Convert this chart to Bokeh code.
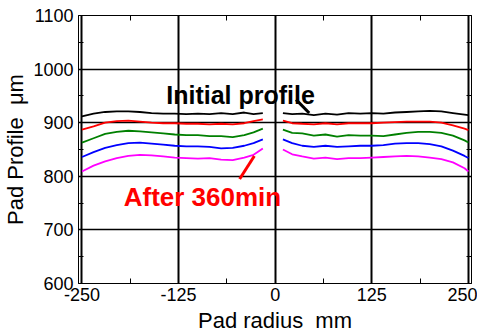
from bokeh.plotting import figure
from bokeh.models import FixedTicker, LinearAxis, Range1d, Label
from bokeh.embed import file_html
from bokeh.resources import INLINE

# Data
x_left = [-250, -235, -220, -205, -190, -175, -160, -145, -130, -115, -100, -85, -70, -55, -40, -28, -16]
x_right = [10, 22, 35, 50, 65, 80, 95, 110, 125, 140, 155, 170, 185, 200, 215, 230, 245, 250]

black_left = [912, 917, 920, 921, 921, 920, 918, 917, 917, 916, 917, 916, 918, 916, 919, 916, 918]
black_right = [918, 916, 917, 914, 917, 915, 918, 917, 918, 917, 919, 920, 921, 922, 921, 918, 915, 914]
red_left = [887, 893, 900, 903, 904, 902, 900, 899, 899, 898, 898, 897, 898, 897, 899, 903, 906]
red_right = [904, 899, 898, 897, 899, 897, 899, 899, 899, 900, 901, 902, 902, 902, 900, 895, 889, 886]
green_left = [863, 871, 879, 883, 885, 884, 882, 880, 878, 877, 877, 875, 875, 873, 877, 882, 889]
green_right = [887, 881, 880, 876, 878, 874, 877, 876, 876, 875, 878, 881, 883, 883, 881, 876, 867, 863]
blue_left = [836, 845, 853, 858, 862, 863, 861, 859, 857, 856, 856, 855, 852, 853, 857, 862, 869]
blue_right = [869, 862, 857, 855, 857, 855, 856, 857, 857, 858, 861, 862, 862, 860, 856, 848, 838, 834]
mag_left = [809, 820, 828, 834, 838, 840, 839, 837, 835, 834, 833, 834, 831, 830, 835, 840, 852]
mag_right = [850, 841, 837, 833, 835, 832, 834, 834, 835, 836, 837, 838, 837, 835, 832, 826, 815, 809]

x_ticks = [-250, -125, 0, 125, 250]
x_tick_labels = ["-250", "-125", "0", "125", "250"]
y_ticks = [600, 700, 800, 900, 1000, 1100]

series = [
    (black_left, black_right, "#000000"),
    (red_left, red_right, "#ff0000"),
    (green_left, green_right, "#008000"),
    (blue_left, blue_right, "#0000ff"),
    (mag_left, mag_right, "#ff00ff"),
]

FONT = "Liberation Sans"

p = figure(frame_width=393, frame_height=268, output_backend="svg", toolbar_location=None,
           x_range=Range1d(-254.5, 254), y_range=Range1d(600, 1100),
           min_border_left=10, min_border_right=6, min_border_top=15, min_border_bottom=10)
p.background_fill_color = "white"
p.outline_line_color = "black"
p.outline_line_width = 1

p.xgrid.ticker = FixedTicker(ticks=x_ticks)
p.ygrid.ticker = FixedTicker(ticks=y_ticks)
p.xgrid.grid_line_color = "black"
p.xgrid.grid_line_width = 2
p.ygrid.grid_line_color = "black"
p.ygrid.grid_line_width = 1.5

x_minor = [-187.5, -62.5, 62.5, 187.5]
y_minor = [650, 750, 850, 950, 1050]

def style_axis(ax, ticks, minor, show_labels=True):
    ax.ticker = FixedTicker(ticks=ticks, minor_ticks=minor)
    ax.major_tick_in = 0
    ax.major_tick_out = 0
    ax.minor_tick_in = 5
    ax.minor_tick_out = 0
    ax.minor_tick_line_color = "black"
    ax.axis_line_color = "black"
    ax.axis_line_width = 1
    ax.major_label_text_font = FONT
    ax.major_label_text_font_size = "18px"
    ax.major_label_text_color = "black" if show_labels else None
    ax.axis_label_text_font = FONT
    ax.axis_label_text_font_size = "22px"
    ax.axis_label_text_font_style = "normal"
    ax.axis_label_text_color = "black"

style_axis(p.xaxis[0], x_ticks, x_minor)
style_axis(p.yaxis[0], y_ticks, y_minor)
p.xaxis[0].major_label_overrides = {t: s for t, s in zip(x_ticks, x_tick_labels)}
p.xaxis[0].major_label_standoff = 4
p.yaxis[0].major_label_standoff = 5
p.xaxis[0].axis_label = "Pad radius\u00a0\u00a0mm"
p.xaxis[0].axis_label_standoff = 4
p.yaxis[0].axis_label = "Pad Profile\u00a0\u00a0μm"
p.yaxis[0].axis_label_standoff = 2

ax_r = LinearAxis()
style_axis(ax_r, y_ticks, y_minor, show_labels=False)
ax_r.major_label_text_font_size = "0px"
ax_r.major_label_standoff = 0
p.add_layout(ax_r, "right")
ax_t = LinearAxis()
style_axis(ax_t, x_ticks, x_minor, show_labels=False)
ax_t.major_label_text_font_size = "0px"
ax_t.major_label_standoff = 0
p.add_layout(ax_t, "above")

for yl, yr, c in series:
    p.line(x_left, yl, line_color=c, line_width=1.8)
    p.line(x_right, yr, line_color=c, line_width=1.8)

# Annotations
p.add_layout(Label(x=-141, y=952, text="Initial profile", text_font=FONT,
                   text_font_size="25px", text_font_style="bold", text_color="black",
                   text_baseline="alphabetic"))
p.segment(x0=[27], y0=[943], x1=[44], y1=[918], line_color="black", line_width=3)
p.add_layout(Label(x=-196, y=761, text="After 360min", text_font=FONT,
                   text_font_size="26px", text_font_style="bold", text_color="#ff0000",
                   text_baseline="alphabetic"))
p.segment(x0=[-46], y0=[795], x1=[-27], y1=[838], line_color="#ff0000", line_width=3)

open("out.html", "w").write(file_html(p, INLINE))
